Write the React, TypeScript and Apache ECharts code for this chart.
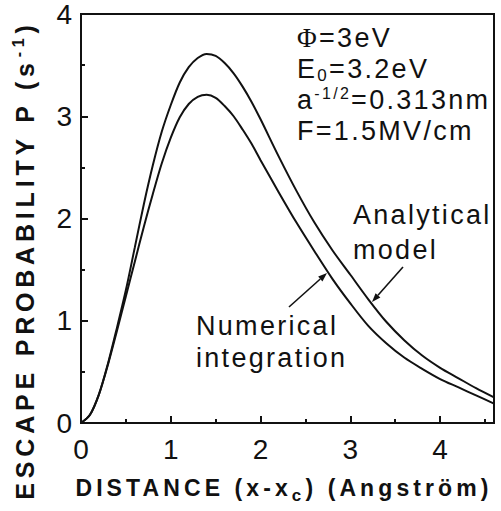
import React, { useEffect, useRef } from "react";
import * as echarts from "echarts";

// ---------- data ----------
const xTickValues = [0, 1, 2, 3, 4];
const yTickValues = [0, 1, 2, 3, 4];
const xMax = 4.6;
const yMax = 4;

const analyticalDistance = [0, 0.1, 0.2, 0.3, 0.4, 0.5, 0.6, 0.7, 0.8, 0.9, 1.0, 1.1, 1.2, 1.3, 1.4, 1.5, 1.6, 1.7, 1.8, 1.9, 2.0, 2.2, 2.4, 2.6, 2.8, 3.0, 3.2, 3.4, 3.6, 3.8, 4.0, 4.2, 4.4, 4.6];
const analyticalProbability = [0, 0.08, 0.28, 0.58, 0.93, 1.3, 1.72, 2.14, 2.52, 2.85, 3.11, 3.33, 3.48, 3.57, 3.61, 3.59, 3.52, 3.42, 3.29, 3.14, 2.97, 2.61, 2.27, 1.96, 1.69, 1.45, 1.21, 0.99, 0.81, 0.66, 0.54, 0.44, 0.34, 0.25];

const numericalDistance = [0, 0.1, 0.2, 0.3, 0.4, 0.5, 0.6, 0.7, 0.8, 0.9, 1.0, 1.1, 1.2, 1.3, 1.4, 1.5, 1.6, 1.7, 1.8, 1.9, 2.0, 2.2, 2.4, 2.6, 2.8, 3.0, 3.2, 3.4, 3.6, 3.8, 4.0, 4.2, 4.4, 4.6];
const numericalProbability = [0, 0.08, 0.28, 0.57, 0.9, 1.24, 1.58, 1.92, 2.24, 2.54, 2.79, 2.99, 3.12, 3.19, 3.21, 3.18, 3.1, 3.0, 2.87, 2.73, 2.57, 2.26, 1.96, 1.68, 1.41, 1.17, 0.95, 0.78, 0.64, 0.53, 0.43, 0.35, 0.27, 0.19];

const xTitleParts = ["DISTANCE (x-x", "c", ") (Angström)"];
const yTitleParts = ["ESCAPE PROBABILITY P (s", "-1", ")"];
const paramLines = [
  ["Φ", "=3eV"],
  ["E", "0", "=3.2eV"],
  ["a", "-1/2", "=0.313nm"],
  ["F=1.5MV/cm"],
];
const labelAnalytical = ["Analytical", "model"];
const labelNumerical = ["Numerical", "integration"];

// ---------- styling ----------
const INK = "#111111";
const SANS = "'Liberation Sans', Arial, Helvetica, sans-serif";
const SERIF = "'Liberation Serif', 'Times New Roman', serif";
const W = 501;
const H = 511;

const spacingByText: Record<string, number> = {};

let measureCtx: CanvasRenderingContext2D | null = null;
function textWidth(text: string, font: string): number {
  if (!measureCtx) measureCtx = document.createElement("canvas").getContext("2d");
  if (!measureCtx) return text.length * 10;
  measureCtx.font = font;
  return measureCtx.measureText(text).width;
}

type Seg = { text: string; size: number; weight?: string; family?: string; pos?: "sup" | "sub" };

function richText(segs: Seg[], spacing: number, lineHeight: number, id: string) {
  let text = "";
  const rich: Record<string, any> = {};
  segs.forEach((s, i) => {
    const key = id + i;
    const weight = s.weight || "normal";
    const family = s.family || SANS;
    const font = `${weight} ${s.size}px ${family}`;
    const w = textWidth(s.text, font) + spacing * s.text.length;
    rich[key] = {
      fontSize: s.size,
      fontWeight: weight,
      fontFamily: family,
      color: INK,
      width: w,
      lineHeight: s.pos ? s.size : lineHeight,
      verticalAlign: s.pos === "sup" ? "top" : s.pos === "sub" ? "bottom" : "middle",
      align: "left",
    };
    if (s.text.length > 1) spacingByText[s.text] = spacing;
    text += `{${key}|${s.text}}`;
  });
  return { text, rich };
}

function arrow(x1: number, y1: number, x2: number, y2: number) {
  const ang = Math.atan2(y2 - y1, x2 - x1);
  const len = 9;
  const half = 3.2;
  const bx = x2 - len * Math.cos(ang);
  const by = y2 - len * Math.sin(ang);
  const px = -Math.sin(ang) * half;
  const py = Math.cos(ang) * half;
  return [
    { type: "line", shape: { x1, y1, x2: bx, y2: by }, style: { stroke: INK, lineWidth: 1.6 } },
    {
      type: "polygon",
      shape: { points: [[x2, y2], [bx + px, by + py], [bx - px, by - py]] },
      style: { fill: INK },
    },
  ];
}

export default function App() {
  const ref = useRef<HTMLDivElement>(null);

  useEffect(() => {
    if (!ref.current) return;
    const el = ref.current;
    const chart = echarts.init(el, null, { renderer: "svg", width: W, height: H });

    const yTitle = richText(
      [
        { text: yTitleParts[0], size: 25, weight: "bold" },
        { text: yTitleParts[1], size: 16, weight: "bold", pos: "sup" },
        { text: yTitleParts[2], size: 25, weight: "bold" },
      ],
      4.8,
      30,
      "yt"
    );
    const xTitle = richText(
      [
        { text: xTitleParts[0], size: 23, weight: "bold" },
        { text: xTitleParts[1], size: 17, weight: "bold", pos: "sub" },
        { text: xTitleParts[2], size: 23, weight: "bold" },
      ],
      4.1,
      32,
      "xt"
    );
    const ANN = 27;
    const SP = 2.3;
    const p1 = richText([{ text: paramLines[0][0], size: ANN, family: SERIF }, { text: paramLines[0][1], size: ANN }], SP, 30, "p1_");
    const p2 = richText(
      [{ text: paramLines[1][0], size: ANN }, { text: paramLines[1][1], size: 17, pos: "sub" }, { text: paramLines[1][2], size: ANN }],
      SP,
      30,
      "p2_"
    );
    const p3 = richText(
      [{ text: paramLines[2][0], size: ANN }, { text: paramLines[2][1], size: 16, pos: "sup" }, { text: paramLines[2][2], size: ANN }],
      SP,
      30,
      "p3_"
    );
    [paramLines[3][0], ...labelAnalytical, ...labelNumerical].forEach((t) => (spacingByText[t] = SP));

    const plainText = (x: number, y: number, t: string) => ({
      type: "text",
      x,
      y,
      style: { text: t, fontSize: ANN, fontFamily: SANS, fill: INK, align: "left", verticalAlign: "middle" },
    });
    const richEl = (x: number, y: number, r: { text: string; rich: any }, align = "left", rotation = 0) => ({
      type: "text",
      x,
      y,
      rotation,
      style: { text: r.text, rich: r.rich, fill: INK, align, verticalAlign: "middle" },
    });

    const toPairs = (xs: number[], ys: number[]) => xs.map((x, i) => [x, ys[i]]);
    const intLabel = (v: number) => (xTickValues.indexOf(v) >= 0 || yTickValues.indexOf(v) >= 0 ? String(v) : "");

    const option: any = {
      animation: false,
      backgroundColor: "#ffffff",
      grid: {
        left: 81,
        right: 7,
        top: 12,
        bottom: 88,
        show: true,
        borderColor: INK,
        borderWidth: 2,
        backgroundColor: "transparent",
      },
      xAxis: [
        {
          type: "value",
          min: 0,
          max: xMax,
          interval: 1,
          position: "bottom",
          axisLine: { show: true, onZero: false, lineStyle: { color: INK, width: 2 } },
          axisTick: { show: true, inside: true, length: 7, lineStyle: { color: INK, width: 2 } },
          axisLabel: {
            formatter: intLabel,
            showMaxLabel: false,
            margin: 12,
            fontSize: 28,
            fontFamily: SANS,
            color: INK,
          },
          splitLine: { show: false },
        },
        {
          type: "value",
          min: 0,
          max: xMax,
          interval: 0.5,
          position: "bottom",
          axisLine: { show: false, onZero: false },
          axisTick: { show: true, inside: true, length: 4, lineStyle: { color: INK, width: 2 } },
          axisLabel: { show: false },
          splitLine: { show: false },
        },
      ],
      yAxis: {
        type: "value",
        min: 0,
        max: yMax,
        interval: 1,
        axisLine: { show: true, onZero: false, lineStyle: { color: INK, width: 2 } },
        axisTick: { show: true, inside: true, length: 7, lineStyle: { color: INK, width: 2 } },
        minorTick: { show: true, splitNumber: 2, length: 4, lineStyle: { color: INK, width: 2 } },
        axisLabel: { formatter: intLabel, margin: 9, fontSize: 28, fontFamily: SANS, color: INK },
        splitLine: { show: false },
        minorSplitLine: { show: false },
      },
      series: [
        {
          name: "Analytical model",
          type: "line",
          xAxisIndex: 0,
          data: toPairs(analyticalDistance, analyticalProbability),
          smooth: 0.3,
          showSymbol: false,
          lineStyle: { color: INK, width: 2 },
          z: 3,
        },
        {
          name: "Numerical integration",
          type: "line",
          xAxisIndex: 0,
          data: toPairs(numericalDistance, numericalProbability),
          smooth: 0.3,
          showSymbol: false,
          lineStyle: { color: INK, width: 2 },
          z: 3,
        },
      ],
      graphic: [
        richEl(25, 260, yTitle, "center", Math.PI / 2),
        richEl(284, 488, xTitle, "center"),
        richEl(297, 38, p1),
        richEl(297, 69, p2),
        richEl(297, 100, p3),
        plainText(297, 131, paramLines[3][0]),
        plainText(353, 215, labelAnalytical[0]),
        plainText(353, 250, labelAnalytical[1]),
        plainText(196, 326, labelNumerical[0]),
        plainText(196, 358, labelNumerical[1]),
        ...arrow(289, 307, 327, 273),
        ...arrow(403, 267, 372, 302),
      ],
    };

    chart.setOption(option);

    const applySpacing = () => {
      el.querySelectorAll("text").forEach((t) => {
        const s = spacingByText[t.textContent || ""];
        if (s != null) t.setAttribute("letter-spacing", s + "px");
      });
    };
    applySpacing();
    chart.on("finished", applySpacing);
    const t1 = setTimeout(applySpacing, 30);
    const t2 = setTimeout(applySpacing, 200);

    return () => {
      clearTimeout(t1);
      clearTimeout(t2);
      chart.dispose();
    };
  }, []);

  return (
    <div
      ref={ref}
      style={{ position: "fixed", left: 0, top: 0, width: W, height: H, background: "#fff" }}
    />
  );
}
